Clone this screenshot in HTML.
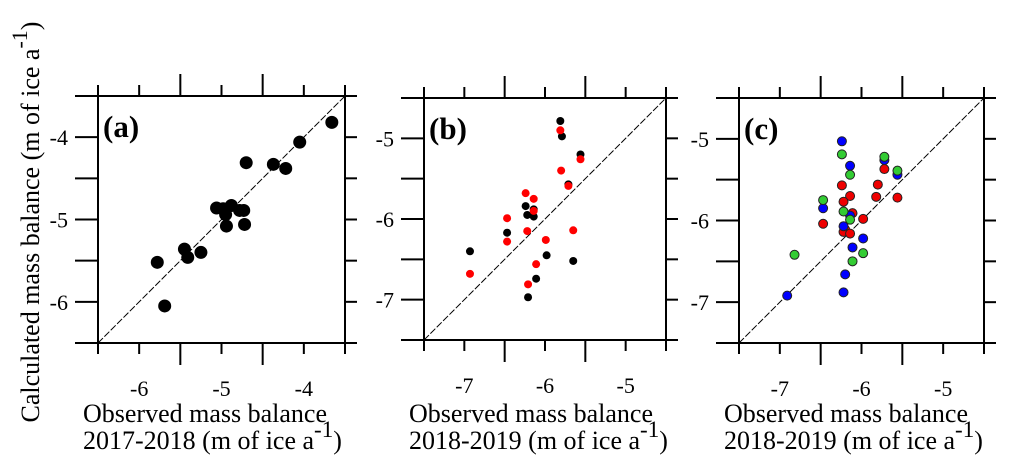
<!DOCTYPE html>
<html><head><meta charset="utf-8">
<style>
html,body{margin:0;padding:0;background:#fff;}
svg{display:block;}
svg text{font-family:"Liberation Serif","DejaVu Serif",serif;}
</style></head>
<body>
<svg id="chart" width="1016" height="475" viewBox="0 0 1016 475" font-family="Liberation Serif, DejaVu Serif, serif">
<text font-family="Liberation Serif, serif" transform="translate(39,222) rotate(-90)" text-anchor="middle" font-size="26">Calculated mass balance (m of ice a<tspan baseline-shift="super" font-size="22">-1</tspan>)</text>
</svg>
<script>
// Panel (a) data: 2017-2018
const aX=[-3.66,-4.05,-4.70,-4.37,-4.22,-5.06,-4.98,-4.88,-4.95,-4.78,-4.73,-4.94,-4.72,-5.45,-5.41,-5.25,-5.78,-5.69];
const aY=[-3.82,-4.06,-4.31,-4.33,-4.38,-4.86,-4.87,-4.83,-4.94,-4.89,-4.89,-5.08,-5.06,-5.36,-5.46,-5.40,-5.52,-6.05];
// Panel (b) data: 2018-2019
const bBlackX=[-5.81,-5.79,-5.56,-5.71,-6.24,-6.22,-6.14,-6.14,-6.47,-6.93,-5.98,-5.65,-6.11,-6.21];
const bBlackY=[-4.785,-4.975,-5.20,-5.57,-5.84,-5.95,-5.88,-5.97,-6.17,-6.40,-6.45,-6.52,-6.74,-6.97];
const bRedX=[-5.81,-5.56,-5.80,-5.71,-6.24,-6.14,-6.14,-6.47,-6.22,-6.47,-5.99,-5.65,-6.11,-6.21,-6.93];
const bRedY=[-4.90,-5.26,-5.40,-5.59,-5.68,-5.75,-5.90,-5.99,-6.15,-6.28,-6.26,-6.14,-6.56,-6.81,-6.68];
// Panel (c) data: 2018-2019
const cBlueX=[-6.24,-6.14,-5.72,-5.56,-6.47,-6.14,-6.22,-5.98,-6.11,-6.20,-6.22,-6.91];
const cBlueY=[-5.03,-5.33,-5.26,-5.44,-5.85,-5.94,-6.07,-6.22,-6.33,-6.66,-6.88,-6.92];
const cGreenX=[-6.24,-6.14,-5.72,-5.56,-6.47,-6.22,-6.14,-5.98,-6.11,-6.82];
const cGreenY=[-5.19,-5.44,-5.22,-5.39,-5.75,-5.89,-5.99,-6.40,-6.50,-6.42];
const cRedX=[-5.72,-5.80,-6.24,-6.14,-5.82,-5.56,-6.22,-6.11,-5.98,-6.47,-6.20,-6.22,-6.14];
const cRedY=[-5.37,-5.56,-5.57,-5.70,-5.71,-5.72,-5.77,-5.91,-5.98,-6.04,-6.11,-6.14,-6.16];
// axis ranges and tick labels
const aRange=[-6.5,-3.5], bRange=[-7.5,-4.5], cRange=[-7.5,-4.5];
const aTicks=["-6","-5","-4"], bTicks=["-7","-6","-5"], cTicks=["-7","-6","-5"];
const years=["2017-2018","2018-2019","2018-2019"];

const NS="http://www.w3.org/2000/svg";
const svg=document.getElementById('chart');
const FF="Liberation Serif, serif";
function mk(tag,attrs,parent){const e=document.createElementNS(NS,tag);for(const k in attrs)e.setAttribute(k,attrs[k]);(parent||svg).appendChild(e);return e;}

function panel(key,L,T,W,range,ticks,year,label,series){
  const g=mk('g',{});
  
  
  const R=L+W,B=T+W,lo=range[0],hi=range[1];
  const sx=v=>L+(v-lo)/(hi-lo)*W;
  const sy=v=>B-(v-lo)/(hi-lo)*W;
  const st={stroke:'#000','stroke-width':2};
  [[L-12,T,R+12,T],[L-12,B,R+12,B],[L,T-6,L,B+6],[R,T-6,R,B+6]].forEach(c=>{
    const ln=mk('line',Object.assign({x1:c[0],y1:c[1],x2:c[2],y2:c[3]},st),g);
    
    
  });
  for(let i=0;i<=6;i++){
    const v=lo+i*0.5, major=(i%2===0)&&i>0&&i<6;
    const x=sx(v), y=sy(v);
    const len=major?22:11;
    const tb=mk('line',Object.assign({x1:x,y1:B,x2:x,y2:B+len},st),g);
    
    
    const tt=mk('line',Object.assign({x1:x,y1:T,x2:x,y2:T-len},st),g);
    
    
    const tl=mk('line',Object.assign({x1:L,y1:y,x2:L-23,y2:y},st),g);
    
    
    const tr=mk('line',Object.assign({x1:R,y1:y,x2:R+12,y2:y},st),g);
    
    
  }
  ticks.forEach(t=>{
    const v=parseFloat(t);
    const xl=mk('text',{x:sx(v),y:B+53,'text-anchor':'middle','font-size':22,'font-family':FF},g);
    xl.textContent=t;
    
    
    const yl=mk('text',{x:L-30,y:sy(v)+8,'text-anchor':'end','font-size':22,'font-family':FF},g);
    yl.textContent=t;
    
    
  });
  const d=mk('line',{x1:sx(lo),y1:sy(lo),x2:sx(hi),y2:sy(hi),stroke:'#000','stroke-width':1,'stroke-dasharray':'7,2'},g);
  
  
  series.forEach(s=>{
    s.x.forEach((xv,i)=>{
      const c=mk('circle',{cx:sx(xv),cy:sy(s.y[i]),r:s.r,fill:s.color,stroke:s.stroke||'none','stroke-width':s.stroke?1:0},g);
      
      
    });
  });
  const pl=mk('text',{x:L+5,y:T+41,'font-size':31,'font-weight':'bold','font-family':FF},g);
  pl.textContent=label;
  
  
  const t1=mk('text',{x:L-15,y:422,'font-size':26,'font-family':FF},g);
  t1.textContent='Observed mass balance';
  
  
  const t2=mk('text',{x:L-15,y:449,'font-size':26,'font-family':FF},g);
  
  
  t2.appendChild(document.createTextNode(year+' (m of ice a'));
  const sp=mk('tspan',{'baseline-shift':'super','font-size':23},t2);
  sp.textContent='-1';
  t2.appendChild(document.createTextNode(')'));
}

panel('a',98,96,247,aRange,aTicks,years[0],'(a)',[{name:'2017-2018',x:aX,y:aY,r:6.5,color:'#000'}]);
panel('b',424,98,242,bRange,bTicks,years[1],'(b)',[
  {name:'black',x:bBlackX,y:bBlackY,r:4,color:'#000'},
  {name:'red',x:bRedX,y:bRedY,r:4,color:'#f00'}]);
panel('c',739,98,245,cRange,cTicks,years[2],'(c)',[
  {name:'red',x:cRedX,y:cRedY,r:4.5,color:'#e00',stroke:'#222'},
  {name:'blue',x:cBlueX,y:cBlueY,r:4.5,color:'#00f',stroke:'#222'},
  {name:'green',x:cGreenX,y:cGreenY,r:4.5,color:'#3c3',stroke:'#222'}]);
</script>
</body></html>
